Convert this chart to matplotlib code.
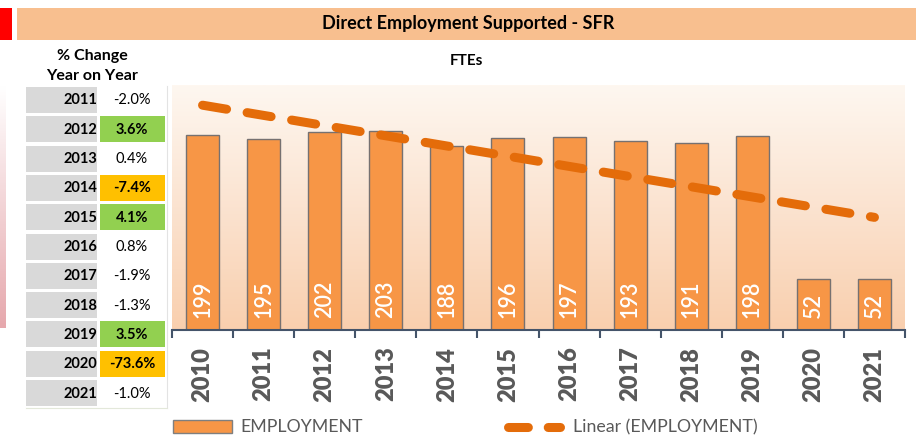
import matplotlib
matplotlib.use("Agg")
import matplotlib.pyplot as plt
import numpy as np
from matplotlib.colors import LinearSegmentedColormap
from matplotlib.patches import Rectangle

plt.rcParams['font.family'] = ['Lato', 'DejaVu Sans']

# Data
years = ['2010', '2011', '2012', '2013', '2014', '2015', '2016', '2017', '2018', '2019', '2020', '2021']
employment = [199, 195, 202, 203, 188, 196, 197, 193, 191, 198, 52, 52]
change_years = ['2011', '2012', '2013', '2014', '2015', '2016', '2017', '2018', '2019', '2020', '2021']
change_labels = ['-2.0%', '3.6%', '0.4%', '-7.4%', '4.1%', '0.8%', '-1.9%', '-1.3%', '3.5%', '-73.6%', '-1.0%']
change_flags = ['', 'up', '', 'down', 'up', '', '', '', 'up', 'down', '']

W, H = 916, 437
fig = plt.figure(figsize=(W / 100, H / 100), dpi=100)

# overlay axes in pixel coords for banner, table and legend
ov = fig.add_axes([0, 0, 1, 1], zorder=0)
ov.set_xlim(0, W)
ov.set_ylim(H, 0)
ov.axis('off')

ov.add_patch(Rectangle((0, 8), 12, 32, color='#FF0000', lw=0))
ov.add_patch(Rectangle((17, 8), W - 17, 32, color='#F8BF8F', lw=0))
ov.text(468, 24, 'Direct Employment Supported - SFR', ha='center', va='center',
        fontsize=13, fontweight='bold', color='black')
ov.text(466, 61, 'FTEs', ha='center', va='center', fontsize=11, fontweight='bold')
ov.text(92, 66, '% Change\nYear on Year', ha='center', va='center', fontsize=11.5,
        fontweight='bold', linespacing=1.55)

# left pinkish strip
strip = np.linspace(0, 1, 100).reshape(-1, 1)
pink = LinearSegmentedColormap.from_list('pink', ['#FFFFFF', '#E6A8AD'])
ov.imshow(strip, cmap=pink, extent=(0, 6, 328, 85), aspect='auto', zorder=0)

# table
fills = {'up': '#92D050', 'down': '#FFC000'}
row_h = 29.3
for i, (yr, lab, flag) in enumerate(zip(change_years, change_labels, change_flags)):
    y0 = 87 + i * row_h
    ov.add_patch(Rectangle((26, y0), 71, 26, color='#D9D9D9', lw=0))
    if flag:
        ov.add_patch(Rectangle((100, y0), 65, 26, color=fills[flag], lw=0))
    ov.text(97, y0 + 13.5, yr, ha='right', va='center', fontsize=10.5, fontweight='bold')
    ov.text(132, y0 + 13.5, lab, ha='center', va='center', fontsize=10.5,
            fontweight='bold' if flag else 'normal')
ov.plot([167, 167], [86, 408], color='#E3E3E3', lw=0.8)
ov.plot([26, 167], [408, 408], color='#E3E8DA', lw=0.8)

# legend
ov.add_patch(Rectangle((173, 420), 59, 13, facecolor='#F79646', edgecolor='#7F7F7F', lw=1))
ov.text(240, 427, 'EMPLOYMENT', va='center', fontsize=12.8, color='#595959')
ov.plot([508, 560], [427, 427], color='#E46C0A', lw=6.5, solid_capstyle='round',
        dash_capstyle='round', linestyle=(0, (2.2, 2.2)))
ov.text(573, 427, 'Linear (EMPLOYMENT)', va='center', fontsize=12.8, color='#595959')

# main chart
left, right, top, bottom = 172, 905, 85, 330
ax = fig.add_axes([left / W, (H - bottom) / H, (right - left) / W, (bottom - top) / H], zorder=1)
x = np.arange(len(years))

grad = LinearSegmentedColormap.from_list('bg', ['#FEF7F0', '#FBE3D0', '#F9CFAE'])
ax.imshow(np.linspace(0, 1, 200).reshape(-1, 1), cmap=grad, extent=(-0.5, 11.5, 0, 250),
          aspect='auto', zorder=0)
ax.set_xlim(-0.5, len(years) - 0.5)
ax.set_ylim(0, 250)

ax.bar(x, employment, width=0.54, color='#F79646', edgecolor='#767171', linewidth=1, zorder=2)
for xi, v in zip(x, employment):
    ax.text(xi, 12, str(v), rotation=90, ha='center', va='bottom', color='white',
            fontsize=15.5, fontweight='semibold', zorder=3)

coef = np.polyfit(x, employment, 1)
trend = np.polyval(coef, x)
ax.plot(x, trend, color='#E46C0A', lw=6.5, dash_capstyle='round',
        linestyle=(0, (2.7, 2.3)), zorder=4)

for s in ['left', 'right', 'top']:
    ax.spines[s].set_visible(False)
ax.spines['bottom'].set_color('#44546A')
ax.spines['bottom'].set_linewidth(1.5)
ax.set_yticks([])
ax.set_xticks(x)
ax.set_xticklabels(years, rotation=90, fontsize=17, fontweight='heavy', color='#595959')
ax.tick_params(axis='x', which='major', length=0, pad=12)
ax.set_xticks(np.arange(-0.5, len(years)), minor=True)
ax.tick_params(axis='x', which='minor', length=6, width=1.5, color='#44546A', direction='out')

fig.savefig('out.png', dpi=100)
